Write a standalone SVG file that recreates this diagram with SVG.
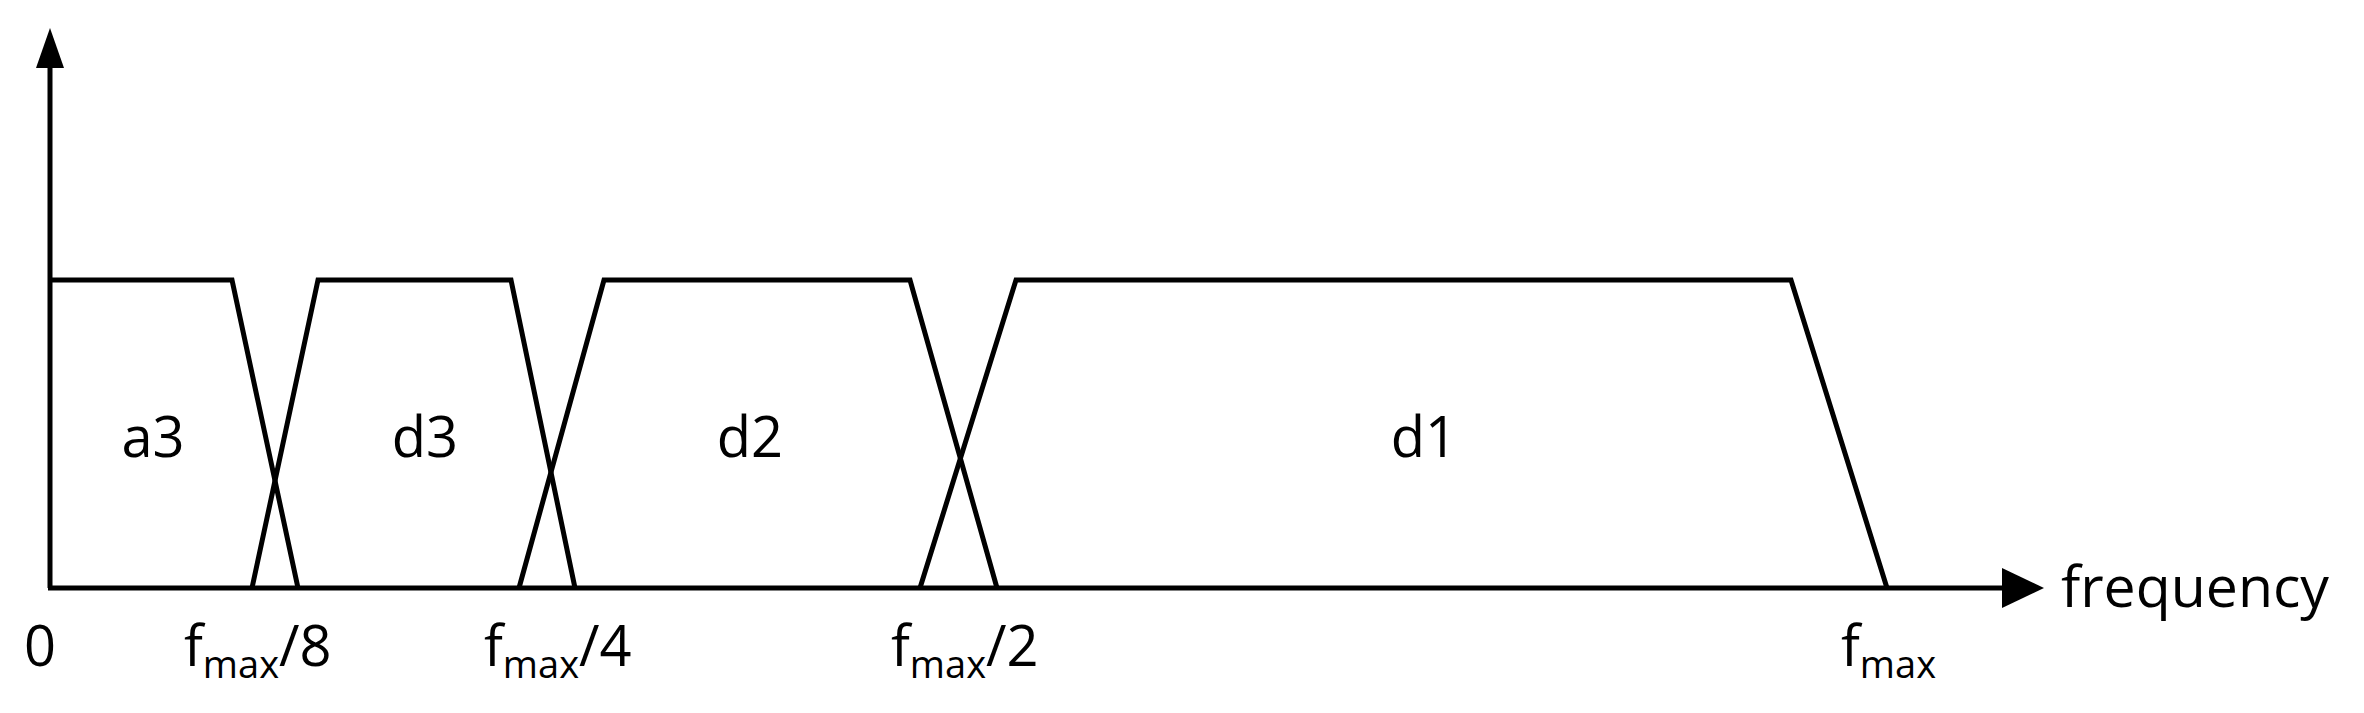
<svg xmlns="http://www.w3.org/2000/svg" width="2364" height="713" viewBox="0 0 2364 713">
<style>
.l{fill:none;stroke:#000;stroke-width:5;stroke-linejoin:miter}
text{font-family:"Open Sans","Liberation Sans",sans-serif;font-size:56px;fill:#000}
.s{font-size:38px}
</style>
<rect width="2364" height="713" fill="#fff"/>
<g id="connectors">
<line class="l" x1="50" y1="588" x2="50" y2="66"/>
<polygon points="50,28 36,68 64,68"/>
<line class="l" x1="48" y1="588" x2="2005" y2="588"/>
<polygon points="2044,588 2002,568 2002,608"/>
</g>
<g id="a3"><polyline class="l" points="50,280 232,280 298,588"/><text x="153" y="457" text-anchor="middle">a3</text></g>
<g id="d3"><polyline class="l" points="252,588 318,280 511,280 575,588"/><text x="425" y="457" text-anchor="middle">d3</text></g>
<g id="d2"><polyline class="l" points="519,588 604,280 910,280 997,588"/><text x="750" y="457" text-anchor="middle">d2</text></g>
<g id="d1"><polyline class="l" points="920,588 1016,280 1791,280 1887,588"/><text x="1424" y="457" text-anchor="middle">d1</text></g>
<g id="labels">
<text x="2061" y="607" textLength="268" lengthAdjust="spacingAndGlyphs">frequency</text>
<text x="40" y="666" text-anchor="middle">0</text>
<text x="184" y="666">f<tspan class="s" dy="12">max</tspan><tspan dy="-12">/8</tspan></text>
<text x="484" y="666">f<tspan class="s" dy="12">max</tspan><tspan dy="-12">/4</tspan></text>
<text x="891" y="666">f<tspan class="s" dy="12">max</tspan><tspan dy="-12">/2</tspan></text>
<text x="1841" y="666">f<tspan class="s" dy="12">max</tspan></text>
</g>
</svg>
